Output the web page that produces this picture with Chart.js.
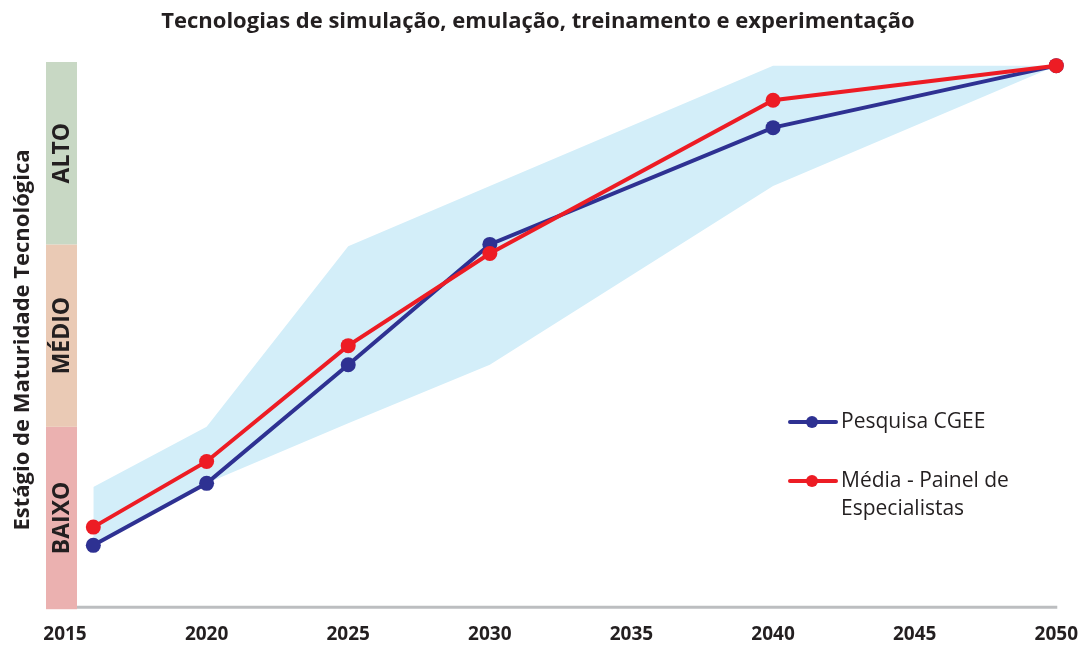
<!DOCTYPE html>
<html lang="pt">
<head>
<meta charset="utf-8">
<title>Tecnologias de simulação, emulação, treinamento e experimentação</title>
<script src="https://cdn.jsdelivr.net/npm/chart.js@4.4.1/dist/chart.umd.min.js"></script>
<style>
  html, body { margin: 0; padding: 0; background: #fff; }
  #wrap { position: relative; width: 1092px; height: 645px; }
</style>
</head>
<body>
<div id="wrap"><canvas id="chart" width="1092" height="645"></canvas></div>
<script>
// Maturity stage: 0 = bottom of BAIXO, 3 = top of ALTO
const years = [2016, 2020, 2025, 2030, 2040, 2050];
const cgee = [0.35, 0.69, 1.34, 2.0, 2.64, 2.98];
const painel = [0.45, 0.81, 1.445, 1.95, 2.79, 2.98];
const faixaMax = [0.67, 1.0, 1.99, 2.32, 2.98, 2.98];
const faixaMin = [0.35, 0.69, 1.02, 1.34, 2.32, 2.98];
const xTicks = [2015, 2020, 2025, 2030, 2035, 2040, 2045, 2050];
const niveis = ['BAIXO', 'MÉDIO', 'ALTO'];
const nivelCores = ['#ebb1b0', '#eacab5', '#c8d8c4'];

const titulo = 'Tecnologias de simulação, emulação, treinamento e experimentação';
const tituloY = 'Estágio de Maturidade Tecnológica';

const FONT = '"Open Sans", "Noto Sans", sans-serif';
const TEXT = '#231f20';

const pts = vals => years.map((y, i) => ({ x: y, y: vals[i] }));

// colored maturity bar on the left, axis baseline and titles
const moldura = {
  id: 'moldura',
  beforeDatasetsDraw(chart) {
    const { ctx, chartArea, scales: { y } } = chart;
    const x0 = chartArea.left - 19, x1 = chartArea.left + 12;
    ctx.save();
    niveis.forEach((nome, i) => {
      const top = y.getPixelForValue(i + 1), bot = y.getPixelForValue(i);
      ctx.fillStyle = nivelCores[i];
      ctx.fillRect(x0, top, x1 - x0, bot - top);
      ctx.save();
      ctx.translate((x0 + x1) / 2 + 1, (top + bot) / 2);
      ctx.rotate(-Math.PI / 2);
      ctx.fillStyle = TEXT;
      ctx.font = 'bold 23px ' + FONT;
      ctx.textAlign = 'center';
      ctx.textBaseline = 'middle';
      ctx.fillText(nome, 0, 0);
      ctx.restore();
    });
    // x axis baseline
    ctx.strokeStyle = '#bcbec0';
    ctx.lineWidth = 3;
    ctx.beginPath();
    ctx.moveTo(x1, chartArea.bottom - 2);
    ctx.lineTo(chartArea.right + 1, chartArea.bottom - 2);
    ctx.stroke();
    ctx.restore();
  },
  afterDraw(chart) {
    const { ctx } = chart;
    ctx.save();
    ctx.fillStyle = TEXT;
    ctx.font = 'bold 22px ' + FONT;
    ctx.textAlign = 'center';
    ctx.textBaseline = 'middle';
    ctx.fillText(titulo, 538, 22);
    ctx.translate(23, 340);
    ctx.rotate(-Math.PI / 2);
    ctx.fillText(tituloY, 0, 0);
    ctx.restore();
  }
};

// legend placed inside the plot, lower right
const legenda = {
  id: 'legenda',
  afterDraw(chart) {
    const { ctx } = chart;
    const itens = [
      { ds: chart.data.datasets[1], y: 422, linhas: ['Pesquisa CGEE'] },
      { ds: chart.data.datasets[0], y: 481, linhas: ['Média - Painel de', 'Especialistas'] }
    ];
    ctx.save();
    itens.forEach(it => {
      ctx.strokeStyle = it.ds.borderColor;
      ctx.fillStyle = it.ds.borderColor;
      ctx.lineWidth = 4;
      ctx.lineCap = 'round';
      ctx.beginPath();
      ctx.moveTo(790, it.y);
      ctx.lineTo(836, it.y);
      ctx.stroke();
      ctx.beginPath();
      ctx.arc(812, it.y, 6, 0, Math.PI * 2);
      ctx.fill();
      ctx.fillStyle = TEXT;
      ctx.font = '21px ' + FONT;
      ctx.textAlign = 'left';
      ctx.textBaseline = 'middle';
      it.linhas.forEach((t, k) => ctx.fillText(t, 841, it.y + k * 28));
    });
    ctx.restore();
  }
};

new Chart(document.getElementById('chart'), {
  type: 'line',
  data: {
    datasets: [
      {
        label: 'Média - Painel de Especialistas',
        data: pts(painel),
        borderColor: '#ed1c24',
        backgroundColor: '#ed1c24',
        borderWidth: 4,
        pointRadius: 7.5,
        pointBorderWidth: 0,
        clip: false,
        fill: false
      },
      {
        label: 'Pesquisa CGEE',
        data: pts(cgee),
        borderColor: '#2e3192',
        backgroundColor: '#2e3192',
        borderWidth: 4,
        pointRadius: 7.5,
        pointBorderWidth: 0,
        clip: false,
        fill: false
      },
      {
        label: 'max',
        data: pts(faixaMax),
        borderWidth: 0,
        pointRadius: 0,
        backgroundColor: '#d3eef9',
        fill: '+1'
      },
      {
        label: 'min',
        data: pts(faixaMin),
        borderWidth: 0,
        pointRadius: 0,
        fill: false
      }
    ]
  },
  options: {
    responsive: false,
    animation: false,
    layout: { padding: { left: 65, right: 33, top: 62, bottom: -15 } },
    scales: {
      x: {
        type: 'linear',
        min: 2015,
        max: 2050,
        afterBuildTicks: s => { s.ticks = xTicks.map(v => ({ value: v })); },
        grid: { display: false, drawTicks: false },
        border: { display: false },
        ticks: {
          padding: 14,
          color: TEXT,
          font: { family: FONT, size: 19, weight: 'bold' },
          maxRotation: 0,
          callback: v => String(v)
        }
      },
      y: { display: false, min: 0, max: 3 }
    },
    plugins: {
      legend: { display: false },
      title: { display: false },
      tooltip: { enabled: false }
    }
  },
  plugins: [moldura, legenda]
});
</script>
</body>
</html>
